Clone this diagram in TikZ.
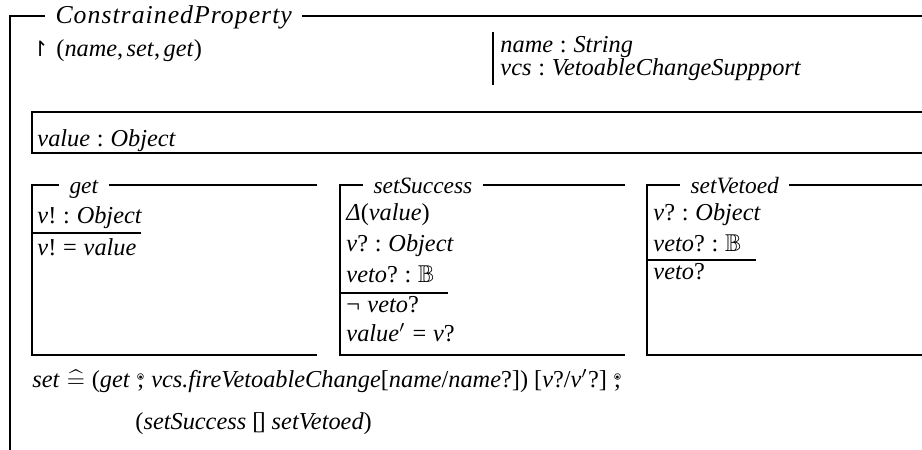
\documentclass[tikz,border=0pt]{standalone}
\usepackage{amssymb}
\usepackage{fontspec}
\setmainfont{Liberation Serif}
\newfontfamily\djv{DejaVu Sans}
\newfontfamily\ttlfont[LetterSpace=4.0]{Liberation Serif}
\newcommand\zi[1]{\textit{#1}}
\newcommand\zc{\hspace{0.28em}:\hspace{0.28em}}
\newcommand\zeq{\hspace{0.28em}=\hspace{0.28em}}
\newcommand\zcm{,\hspace{0.14em}}
\newcommand\zsemi{\hspace{0.25em}\ooalign{\hfil;\hfil\cr\hfil\raisebox{0.62ex}{\fontsize{6}{6}\selectfont$\circ$}\hfil\cr}\hspace{0.25em}}
\newcommand\zchoice{\hspace{0.25em}[\kern-0.12em]\hspace{0.25em}}
\tikzset{
  zline/.style={line width=1.25pt},
  ztxt/.style={anchor=base west, inner sep=0pt},
  ztitle/.style={anchor=base west, inner xsep=4.3pt, inner ysep=0pt, font=\itshape}
}
\begin{document}
\begin{tikzpicture}[x=0.42735pt, y=-0.42735pt, font=\fontsize{10.4}{12.5}\selectfont]
\useasboundingbox (0,0) rectangle (922,450);
\clip (0,0) rectangle (922,450);
% outer schema
\node[ztitle, font=\ttlfont\fontsize{11}{13}\selectfont\itshape] (cpT) at (45,23) {ConstrainedProperty};
\coordinate (cpTL) at (10,16);
\coordinate (cpTR) at (940,16);
\coordinate (cpBL) at (10,452);
\draw[zline] (cpBL) -- (cpTL) -- (cpT.west |- cpTL);
\draw[zline] (cpT.east |- cpTR) -- (cpTR);
\node[ztxt] (vis) at (31,57) {{\djv\fontsize{9}{9}\selectfont ↾}\hspace{0.3em}(\zi{name}\zcm\zi{set}\zcm\zi{get})};
\coordinate (barT) at (493,32);
\coordinate (barB) at (493,85);
\draw[zline] (barT) -- (barB);
\node[ztxt] (c1) at (500,52) {\zi{name}\zc\zi{String}};
\node[ztxt] (c2) at (500,75) {\zi{vcs}\zc\zi{VetoableChangeSuppport}};
% state box
\coordinate (stTL) at (32,112);
\coordinate (stBL) at (32,153);
\draw[zline] (940,112) -- (stTL) -- (stBL) -- (940,153);
\node[ztxt] (st) at (37,146) {\zi{value}\zc\zi{Object}};
% get
\node[ztitle] (gT) at (59,193) {get};
\coordinate (gTL) at (32,185);
\coordinate (gBL) at (32,355);
\coordinate (gR) at (317,185);
\draw[zline] (gT.west |- gTL) -- (gTL) -- (gBL) -- (317,355);
\draw[zline] (gT.east |- gR) -- (gR);
\node[ztxt] (g1) at (37,223) {\zi{v}!\zc\zi{Object}};
\coordinate (gS) at (32,233);
\draw[zline] (gS) -- (141,233);
\node[ztxt] (g2) at (37,255) {\zi{v}!\zeq\zi{value}};
% setSuccess
\node[ztitle] (sT) at (363,193) {setSuccess};
\coordinate (sTL) at (340,185);
\coordinate (sBL) at (340,355);
\coordinate (sR) at (625,185);
\draw[zline] (sT.west |- sTL) -- (sTL) -- (sBL) -- (625,355);
\draw[zline] (sT.east |- sR) -- (sR);
\node[ztxt] (s1) at (346,220) {\zi{Δ}(\zi{value})};
\node[ztxt] (s2) at (346,251) {\zi{v}?\zc\zi{Object}};
\node[ztxt] (s3) at (346,282) {\zi{veto}?\zc$\mathbb{B}$};
\coordinate (sS) at (340,293);
\draw[zline] (sS) -- (448,293);
\node[ztxt] (s4) at (346,312) {¬\hspace{0.3em}\zi{veto}?};
\node[ztxt] (s5) at (346,341) {\zi{value}$'$\zeq\zi{v}?};
% setVetoed
\node[ztitle] (vT) at (680,193) {setVetoed};
\coordinate (vTL) at (647,185);
\coordinate (vBL) at (647,355);
\coordinate (vR) at (940,185);
\draw[zline] (vT.west |- vTL) -- (vTL) -- (vBL) -- (940,355);
\draw[zline] (vT.east |- vR) -- (vR);
\node[ztxt] (v1) at (653,220) {\zi{v}?\zc\zi{Object}};
\node[ztxt] (v2) at (653,251) {\zi{veto}?\zc$\mathbb{B}$};
\coordinate (vS) at (647,260);
\draw[zline] (vS) -- (756,260);
\node[ztxt] (v3) at (653,279) {\zi{veto}?};
% operation definition
\node[ztxt] (d1) at (32,387) {\zi{set}\hspace{0.28em}$\widehat{=}$\hspace{0.28em}(\zi{get}\zsemi\zi{vcs.fireVetoableChange}[\zi{name}/\zi{name}?])\hspace{0.25em}[\zi{v}?/\zi{v}$'$?]\zsemi};
\node[ztxt] (d2) at (135,429) {(\zi{setSuccess}\zchoice\zi{setVetoed})};
\end{tikzpicture}
\end{document}
